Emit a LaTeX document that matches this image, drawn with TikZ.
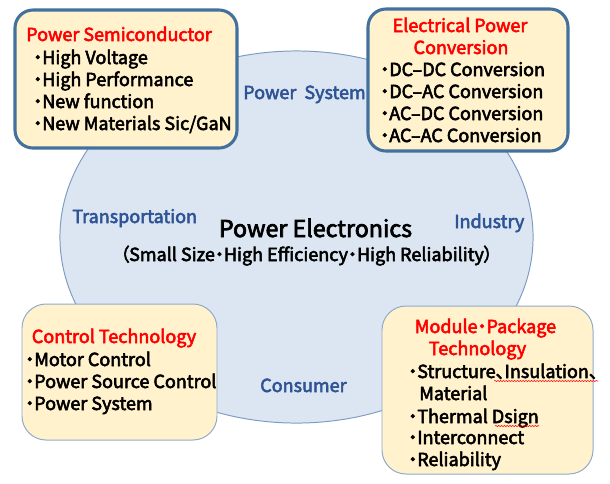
\documentclass[tikz,border=0pt]{standalone}
\usepackage{fontspec}
\setmainfont{Noto Sans CJK JP}[RawFeature=+palt, UprightFeatures={FakeBold=3}]
\usetikzlibrary{decorations.pathmorphing,calc}
\definecolor{fieldbg}{HTML}{DCE6F2}
\definecolor{fieldline}{HTML}{7F9DC3}
\definecolor{fieldtext}{HTML}{2F5496}
\definecolor{boxbg}{HTML}{FFF2CC}
\definecolor{boxline}{HTML}{41719C}
\definecolor{boxthin}{HTML}{8FAACB}
\tikzset{
  txt/.style={inner sep=0pt, font=\fontsize{12.8}{15}\selectfont},
  item/.style={txt, anchor=base west},
  head/.style={txt, anchor=base, text=red},
  field/.style={txt, anchor=base west, text=fieldtext},
  thickbox/.style={draw=boxline, line width=2.2pt, fill=boxbg, rounded corners=0.45cm},
  thinbox/.style={draw=boxthin, line width=0.7pt, fill=boxbg, rounded corners=0.6cm},
  squiggle/.style={red, line width=0.4pt, decorate, decoration={snake, amplitude=0.4pt, segment length=2pt}}
}
\begin{document}
\begin{tikzpicture}[x=0.025cm,y=-0.025cm]
\useasboundingbox (0,0) rectangle (610,483);

\draw[fill=fieldbg, draw=fieldline, line width=0.7pt] (296.5,237) ellipse [x radius=5.9125cm, y radius=4.65cm];

\node[field] (power) at (243,99) {Power\ \ System};
\node[field] (transport) at (72,223) {Transportation};
\node[field] (industry) at (454,228) {Industry};
\node[field] (consumer) at (260,392) {Consumer};

\node[txt, anchor=base, font=\fontsize{16.5}{18}\selectfont] (pe) at (315.5,237) {Power Electronics};
\node[txt, anchor=base] (pesub) at (306.5,261) {（Small Size・High Efficiency・High Reliability）};

\draw[thickbox] (15,10) rectangle (237,148);
\node[head, anchor=base west] (semi) at (26,41) {Power Semiconductor};
\node[item] (semi1) at (33,64) {・High Voltage};
\node[item] (semi2) at (33,86) {・High Performance};
\node[item] (semi3) at (33,108) {・New function};
\node[item] (semi4) at (33,130) {・New Materials Sic/GaN};

\draw[thickbox] (368,9) rectangle (568,151);
\node[head] (conv) at (460,32) {Electrical Power};
\node[head] (conv0) at (461,54) {Conversion};
\node[item] (conv1) at (380,76) {・DC–DC Conversion};
\node[item] (conv2) at (380,98) {・DC–AC Conversion};
\node[item] (conv3) at (380,120) {・AC–DC Conversion};
\node[item] (conv4) at (380,142) {・AC–AC Conversion};

\draw[thinbox] (22,304) rectangle (217,440);
\node[head] (ctrl) at (114,343) {Control Technology};
\node[item] (ctrl1) at (25,366) {・Motor Control};
\node[item] (ctrl2) at (25,388) {・Power Source Control};
\node[item] (ctrl3) at (25,410) {・Power System};

\draw[thinbox] (382,306) rectangle (593,474);
\node[head] (pkg) at (485.5,333) {Module・Package};
\node[head] (pkg0) at (477.5,355) {Technology};
\node[item] (pkg1) at (408,378) {・Structure、Insulation、};
\node[item] (pkg2) at (419,400) {Material};
\node[item] (pkg3) at (408,423) {・Thermal Dsign};
\node[item] (pkg4) at (408,444) {・Interconnect};
\node[item] (pkg5) at (408,466) {・Reliability};

\draw[squiggle] ($(pkg1.base east)+(-104,3)$) -- ($(pkg1.base east)+(0,3)$);
\draw[squiggle] ($(pkg3.base east)+(-44,3)$) -- ($(pkg3.base east)+(0,3)$);

\end{tikzpicture}
\end{document}
